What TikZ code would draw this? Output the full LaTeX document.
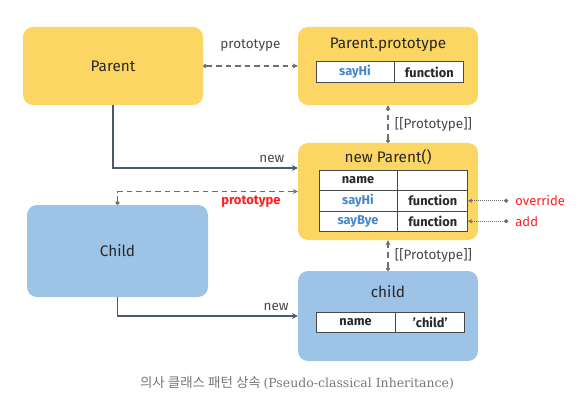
\documentclass[tikz,border=0pt]{standalone}
\usepackage{fontspec}
\setmainfont{Fira Sans}
\newfontfamily\kofont{Noto Sans CJK KR}
\newfontfamily\capfont{DejaVu Serif}
\usetikzlibrary{arrows.meta, positioning, calc}
\definecolor{protoyellow}{RGB}{252, 214, 98}
\definecolor{childblue}{RGB}{157, 195, 230}
\definecolor{keyblue}{RGB}{70, 135, 200}
\definecolor{linkgray}{RGB}{110, 110, 110}
\definecolor{newslate}{RGB}{75, 90, 115}
\definecolor{notered}{RGB}{255, 30, 30}
\definecolor{inkdark}{RGB}{40, 40, 40}
\definecolor{capgray}{RGB}{120, 120, 120}

\begin{document}
\begin{tikzpicture}[x=1pt, y=-1pt,
    objbox/.style={rounded corners=10pt, minimum width=180pt, text=inkdark,
      font=\fontsize{15.3}{18}\selectfont},
    boxtitle/.style={text=inkdark, font=\fontsize{15.3}{18}\selectfont, inner sep=0pt},
    cell/.style={draw=inkdark!85, line width=0.8pt, fill=white, minimum height=20.5pt, inner sep=0pt,
      text=inkdark, font=\bfseries\fontsize{12.8}{15}\selectfont},
    protolink/.style={linkgray, line width=1.2pt, dash pattern=on 5.5pt off 4pt,
      {Circle[length=4pt]}-{Stealth[length=5pt, width=5pt]}},
    newlink/.style={newslate, line width=1.3pt, -{Stealth[length=6pt, width=6pt]}},
    notelink/.style={linkgray, line width=1.1pt, dash pattern=on 1pt off 1pt,
      {Circle[length=4pt]}-{Stealth[length=4pt, width=4.5pt]}},
    linklabel/.style={text=inkdark!85, font=\fontsize{13.5}{16}\selectfont},
    notelabel/.style={text=notered, font=\fontsize{13}{15}\selectfont, inner sep=0pt}]

    \useasboundingbox (0,0) rectangle (583,406);

    % Parent constructor and its prototype
    \node[objbox, fill=protoyellow, minimum height=78pt] (parent) at (113,66) {Parent};
    \node[objbox, fill=protoyellow, minimum height=78pt] (proto) at (388,66) {};
    \node[boxtitle, below=11pt of proto.north] (proto-t) {Parent.prototype};
    \node[cell, minimum width=78pt] (pp-k) at (355,72) {\color{keyblue}sayHi};
    \node[cell, minimum width=69pt, right=0pt of pp-k] (pp-v) {function};

    % instance made by new Parent()
    \node[objbox, fill=protoyellow, minimum height=97pt] (newp) at (388,191.5) {};
    \node[boxtitle, below=7pt of newp.north] (newp-t) {new Parent()};
    \foreach \k/\v/\c [count=\i] in {name//inkdark, sayHi/function/keyblue, sayBye/function/keyblue}{
      \node[cell, minimum width=78pt] (np-k\i) at (358,{159.75+20.5*\i}) {\color{\c}\k};
      \node[cell, minimum width=70pt, right=0pt of np-k\i] (np-v\i) {\v};
    }

    % Child constructor and child instance
    \node[objbox, fill=childblue, minimum width=181pt, minimum height=92pt] (childcls) at (117.5,251) {Child};
    \node[objbox, fill=childblue, minimum height=90pt] (childobj) at (388,316) {};
    \node[boxtitle, below=15pt of childobj.north] (childobj-t) {child};
    \node[cell, minimum width=79pt] (co-k) at (355.5,322.5) {name};
    \node[cell, minimum width=69pt, right=0pt of co-k] (co-v) {'child'};

    % prototype links
    \draw[protolink] (parent.east) -- (proto.west)
      node[midway, above=11pt, linklabel] {prototype};
    \draw[protolink] (childcls.north) |- (newp.west)
      node[pos=0.87, below=0pt, text=notered, font=\bfseries\fontsize{13}{15}\selectfont] {prototype};
    \draw[protolink] (newp.north) -- (proto.south)
      node[midway, right=3pt, linklabel] {[[Prototype]]};
    \draw[protolink] (childobj.north) -- (newp.south)
      node[midway, right=3pt, linklabel] {[[Prototype]]};

    % new
    \draw[newlink] (parent.south) |- ([yshift=23.5pt]newp.west)
      node[pos=0.93, above=1pt, linklabel] {new};
    \draw[newlink] (childcls.south) |- (childobj.west)
      node[pos=0.94, above=1pt, linklabel] {new};

    % notes
    \coordinate (ovr-dot) at ($(np-v2.east)+(40pt,0)$);
    \coordinate (add-dot) at ($(np-v3.east)+(40pt,0)$);
    \node[notelabel, right=7pt of ovr-dot] (ovr) {override};
    \node[notelabel, right=7pt of add-dot] (add) {add};
    \draw[notelink] (ovr-dot) -- (np-v2.east);
    \draw[notelink] (add-dot) -- (np-v3.east);

    % caption
    \node[text=capgray] (caption) at (297,383)
      {{\kofont\fontsize{13.5}{16}\selectfont 의사 클래스 패턴 상속} {\capfont\fontsize{12.5}{15}\selectfont (Pseudo-classical Inheritance)}};

\end{tikzpicture}
\end{document}
